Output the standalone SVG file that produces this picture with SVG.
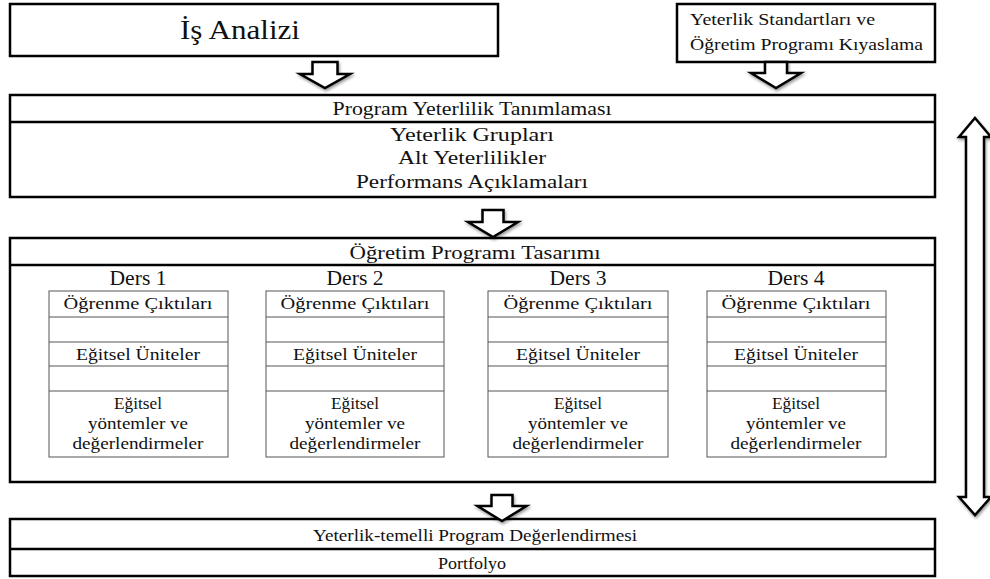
<svg xmlns="http://www.w3.org/2000/svg" width="990" height="579" viewBox="0 0 990 579">
<defs>
<style>
.box{fill:#fff;stroke:#000;stroke-width:2.5}
.div{stroke:#000;stroke-width:2.5}
.cell{fill:#fff;stroke:#555;stroke-width:1}
.arr{fill:#fff;stroke:#000;stroke-width:2.5;stroke-linejoin:miter}
text{font-family:"Liberation Serif","DejaVu Serif",serif;fill:#111;text-anchor:middle}
.t18{font-size:19px}
.t16{font-size:17px}
.ders{font-size:20px}
.cond{font-family:"Liberation Serif",serif;font-size:17px}
</style>
<filter id="sh" x="-20%" y="-20%" width="140%" height="140%">
<feGaussianBlur in="SourceAlpha" stdDeviation="1.5"/>
<feOffset dx="1" dy="2" result="b"/>
<feComponentTransfer><feFuncA type="linear" slope="0.4"/></feComponentTransfer>
<feMerge><feMergeNode/><feMergeNode in="SourceGraphic"/></feMerge>
</filter>
</defs>
<rect width="990" height="579" fill="#fff"/>

<g id="is-analizi">
<rect class="box" x="10" y="4" width="488" height="52"/>
<text x="240" y="39" style="font-size:28px" textLength="120" lengthAdjust="spacingAndGlyphs">İş Analizi</text>
</g>

<g id="kiyaslama">
<rect class="box" x="677" y="4" width="258" height="58"/>
<text x="690" y="25" class="t16" style="text-anchor:start" textLength="185" lengthAdjust="spacingAndGlyphs">Yeterlik Standartları ve</text>
<text x="690" y="50" class="t16" style="text-anchor:start" textLength="233" lengthAdjust="spacingAndGlyphs">Öğretim Programı Kıyaslama</text>
</g>

<g id="program-yeterlilik">
<rect class="box" x="10" y="95" width="925" height="102"/>
<line class="div" x1="10" y1="122" x2="935" y2="122"/>
<text x="472" y="115" class="t18" textLength="279" lengthAdjust="spacingAndGlyphs">Program Yeterlilik Tanımlaması</text>
<text x="472" y="141" class="t18" textLength="164" lengthAdjust="spacingAndGlyphs">Yeterlik Grupları</text>
<text x="472" y="164" class="t18" textLength="148" lengthAdjust="spacingAndGlyphs">Alt Yeterlilikler</text>
<text x="472" y="188" class="t18" textLength="232" lengthAdjust="spacingAndGlyphs">Performans Açıklamaları</text>
</g>

<g id="ogretim-programi">
<rect class="box" x="10" y="238" width="925" height="244"/>
<line class="div" x1="10" y1="265" x2="935" y2="265"/>
<text x="475" y="259" class="t18" textLength="251" lengthAdjust="spacingAndGlyphs">Öğretim Programı Tasarımı</text>
</g>

<g id="ders1">
<text x="138" y="285" class="ders" textLength="57" lengthAdjust="spacingAndGlyphs">Ders 1</text>
<rect class="cell" x="49" y="291" width="179" height="166"/>
<path class="cell" d="M49 317H228M49 342H228M49 366H228M49 391H228"/>
<text x="138" y="309" class="t16" textLength="149" lengthAdjust="spacingAndGlyphs">Öğrenme Çıktıları</text>
<text x="138" y="360" class="t16" textLength="124" lengthAdjust="spacingAndGlyphs">Eğitsel Üniteler</text>
<text x="138" y="409" class="t16" textLength="48" lengthAdjust="spacingAndGlyphs">Eğitsel</text>
<text x="138" y="429" class="t16" textLength="100" lengthAdjust="spacingAndGlyphs">yöntemler ve</text>
<text x="138" y="449" class="t16" textLength="131" lengthAdjust="spacingAndGlyphs">değerlendirmeler</text>
</g>

<g id="ders2">
<text x="355" y="285" class="ders" textLength="57" lengthAdjust="spacingAndGlyphs">Ders 2</text>
<rect class="cell" x="266" y="291" width="178" height="166"/>
<path class="cell" d="M266 317H444M266 342H444M266 366H444M266 391H444"/>
<text x="355" y="309" class="t16" textLength="149" lengthAdjust="spacingAndGlyphs">Öğrenme Çıktıları</text>
<text x="355" y="360" class="t16" textLength="124" lengthAdjust="spacingAndGlyphs">Eğitsel Üniteler</text>
<text x="355" y="409" class="t16" textLength="48" lengthAdjust="spacingAndGlyphs">Eğitsel</text>
<text x="355" y="429" class="t16" textLength="100" lengthAdjust="spacingAndGlyphs">yöntemler ve</text>
<text x="355" y="449" class="t16" textLength="131" lengthAdjust="spacingAndGlyphs">değerlendirmeler</text>
</g>

<g id="ders3">
<text x="578" y="285" class="ders" textLength="57" lengthAdjust="spacingAndGlyphs">Ders 3</text>
<rect class="cell" x="488" y="291" width="180" height="166"/>
<path class="cell" d="M488 317H668M488 342H668M488 366H668M488 391H668"/>
<text x="578" y="309" class="t16" textLength="149" lengthAdjust="spacingAndGlyphs">Öğrenme Çıktıları</text>
<text x="578" y="360" class="t16" textLength="124" lengthAdjust="spacingAndGlyphs">Eğitsel Üniteler</text>
<text x="578" y="409" class="t16" textLength="48" lengthAdjust="spacingAndGlyphs">Eğitsel</text>
<text x="578" y="429" class="t16" textLength="100" lengthAdjust="spacingAndGlyphs">yöntemler ve</text>
<text x="578" y="449" class="t16" textLength="131" lengthAdjust="spacingAndGlyphs">değerlendirmeler</text>
</g>

<g id="ders4">
<text x="796" y="285" class="ders" textLength="57" lengthAdjust="spacingAndGlyphs">Ders 4</text>
<rect class="cell" x="707" y="291" width="179" height="166"/>
<path class="cell" d="M707 317H886M707 342H886M707 366H886M707 391H886"/>
<text x="796" y="309" class="t16" textLength="149" lengthAdjust="spacingAndGlyphs">Öğrenme Çıktıları</text>
<text x="796" y="360" class="t16" textLength="124" lengthAdjust="spacingAndGlyphs">Eğitsel Üniteler</text>
<text x="796" y="409" class="t16" textLength="48" lengthAdjust="spacingAndGlyphs">Eğitsel</text>
<text x="796" y="429" class="t16" textLength="100" lengthAdjust="spacingAndGlyphs">yöntemler ve</text>
<text x="796" y="449" class="t16" textLength="131" lengthAdjust="spacingAndGlyphs">değerlendirmeler</text>
</g>

<g id="degerlendirme">
<rect class="box" x="10" y="519" width="925" height="57"/>
<line class="div" x1="10" y1="549" x2="935" y2="549"/>
<text x="475" y="541" class="cond" textLength="324" lengthAdjust="spacingAndGlyphs">Yeterlik-temelli Program Değerlendirmesi</text>
<text x="472" y="569" class="cond" textLength="68" lengthAdjust="spacingAndGlyphs">Portfolyo</text>
</g>

<g id="connectors" filter="url(#sh)">
<path class="arr" d="M312.5 62H337.5V74H350L325 88L300 74H312.5Z"/>
<path class="arr" d="M765 62H787V73H801L776 88L751 73H765Z"/>
<path class="arr" d="M482.5 210H503.5V222H518L493 237L468 222H482.5Z"/>
<path class="arr" d="M491.5 495H512.5V506H526.5L502 521L477.5 506H491.5Z"/>
<path class="arr" d="M975 118L991 137H984V497H991L975 515L959 497H966V137H959Z"/>
</g>
</svg>
